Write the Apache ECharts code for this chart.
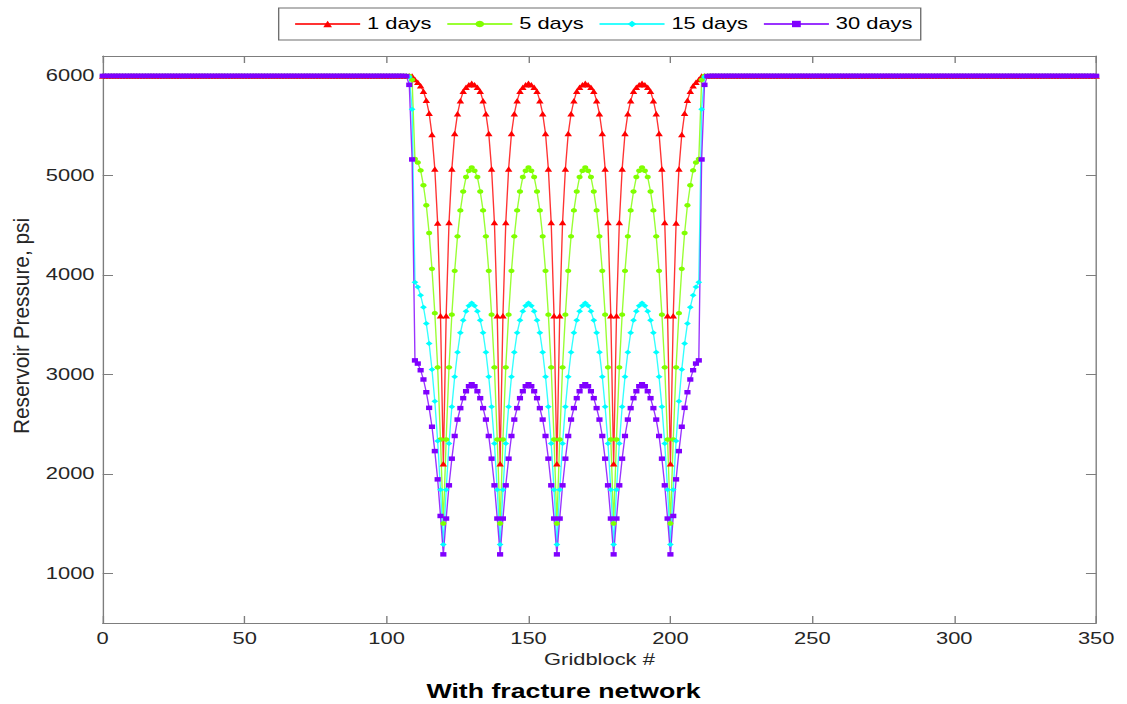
<!DOCTYPE html>
<html>
<head>
<meta charset="utf-8">
<script src="https://cdn.jsdelivr.net/npm/echarts@6/dist/echarts.min.js"></script>
<style>
  html, body { margin: 0; padding: 0; background: #fff; }
  #wrap { width: 1127px; height: 704px; overflow: hidden; position: relative; background: #fff; }
  /* the figure is laid out on a narrower canvas and widened horizontally */
  #chart { width: 823px; height: 704px; transform: scaleX(1.3694); transform-origin: 0 0; }
</style>
</head>
<body>
<div id="wrap"><div id="chart"></div></div>
<script>
// Gridblock pressure profiles (psi) along the model
const firstBlock = 0;
const lastBlock = 350;
const initialPressure = 6000;
const profileStart = 106; // first gridblock listed in the profiles below (runs to 214)

const seriesNames = ['1 days', '5 days', '15 days', '30 days'];
const xTicks = [0, 50, 100, 150, 200, 250, 300, 350];
const yTicks = [1000, 2000, 3000, 4000, 5000, 6000];

const p1Day = [
  6000, 6000, 6000, 5998, 5965,
  5935, 5900, 5845, 5755, 5625, 5410, 5065, 4520, 3590, 2100,
  3590, 4525, 5065, 5420, 5620, 5750, 5845, 5885, 5910, 5925, 5910, 5885, 5845, 5750, 5620, 5420, 5065, 4525, 3590, 2100,
  3590, 4525, 5065, 5420, 5620, 5750, 5845, 5885, 5910, 5925, 5910, 5885, 5845, 5750, 5620, 5420, 5065, 4525, 3590, 2100,
  3590, 4525, 5065, 5420, 5620, 5750, 5845, 5885, 5910, 5925, 5910, 5885, 5845, 5750, 5620, 5420, 5065, 4525, 3590, 2100,
  3590, 4525, 5065, 5420, 5620, 5750, 5845, 5885, 5910, 5925, 5910, 5885, 5845, 5750, 5620, 5420, 5065, 4525, 3590, 2100,
  3590, 4520, 5065, 5410, 5625, 5755, 5845, 5900, 5935, 5965,
  5998, 6000, 6000, 6000
];
const p5Days = [
  6000, 6000, 6000, 5960, 5165,
  5130, 5050, 4900, 4700, 4420, 4060, 3615, 3070, 2345, 1500,
  2345, 3070, 3600, 4040, 4387, 4648, 4838, 4983, 5046, 5080, 5046, 4983, 4838, 4648, 4387, 4040, 3600, 3070, 2345, 1500,
  2345, 3070, 3600, 4040, 4387, 4648, 4838, 4983, 5046, 5080, 5046, 4983, 4838, 4648, 4387, 4040, 3600, 3070, 2345, 1500,
  2345, 3070, 3600, 4040, 4387, 4648, 4838, 4983, 5046, 5080, 5046, 4983, 4838, 4648, 4387, 4040, 3600, 3070, 2345, 1500,
  2345, 3070, 3600, 4040, 4387, 4648, 4838, 4983, 5046, 5080, 5046, 4983, 4838, 4648, 4387, 4040, 3600, 3070, 2345, 1500,
  2345, 3070, 3615, 4060, 4420, 4700, 4900, 5050, 5130, 5165,
  5960, 6000, 6000, 6000
];
const p15Days = [
  6000, 6000, 5990, 5665, 3925,
  3879, 3795, 3674, 3510, 3310, 3048, 2730, 2330, 1840, 1290,
  1840, 2305, 2673, 2975, 3222, 3417, 3543, 3634, 3690, 3718, 3690, 3634, 3543, 3417, 3222, 2975, 2673, 2305, 1840, 1290,
  1840, 2305, 2673, 2975, 3222, 3417, 3543, 3634, 3690, 3718, 3690, 3634, 3543, 3417, 3222, 2975, 2673, 2305, 1840, 1290,
  1840, 2305, 2673, 2975, 3222, 3417, 3543, 3634, 3690, 3718, 3690, 3634, 3543, 3417, 3222, 2975, 2673, 2305, 1840, 1290,
  1840, 2305, 2673, 2975, 3222, 3417, 3543, 3634, 3690, 3718, 3690, 3634, 3543, 3417, 3222, 2975, 2673, 2305, 1840, 1290,
  1840, 2330, 2730, 3048, 3310, 3510, 3674, 3795, 3879, 3925,
  5665, 5990, 6000, 6000
];
const p30Days = [
  6000, 5998, 5910, 5160, 3140,
  3108, 3041, 2948, 2820, 2663, 2473, 2228, 1944, 1576, 1190,
  1550, 1884, 2152, 2380, 2545, 2660, 2760, 2830, 2880, 2900, 2880, 2830, 2760, 2660, 2545, 2380, 2152, 1884, 1550, 1190,
  1550, 1884, 2152, 2380, 2545, 2660, 2760, 2830, 2880, 2900, 2880, 2830, 2760, 2660, 2545, 2380, 2152, 1884, 1550, 1190,
  1550, 1884, 2152, 2380, 2545, 2660, 2760, 2830, 2880, 2900, 2880, 2830, 2760, 2660, 2545, 2380, 2152, 1884, 1550, 1190,
  1550, 1884, 2152, 2380, 2545, 2660, 2760, 2830, 2880, 2900, 2880, 2830, 2760, 2660, 2545, 2380, 2152, 1884, 1550, 1190,
  1576, 1944, 2228, 2473, 2663, 2820, 2948, 3041, 3108, 3140,
  5160, 5910, 5998, 6000
];

// full profile over every gridblock: blocks outside the listed span stay at initial pressure
function fullProfile(profile) {
  const out = [];
  for (let b = firstBlock; b <= lastBlock; b++) {
    const i = b - profileStart;
    out.push([b, (i >= 0 && i < profile.length) ? profile[i] : initialPressure]);
  }
  return out;
}

const FONT = "'Liberation Sans', Arial, Helvetica, sans-serif";
const AXIS_GRAY = '#7d7d7d';
const TEXT = '#262626';

const styles = [
  { color: '#ff0000', symbol: 'triangle', size: 5.5, data: p1Day },
  { color: '#80ff00', symbol: 'circle', size: 4.5, data: p5Days },
  { color: '#00ffff', symbol: 'diamond', size: 5, data: p15Days },
  { color: '#8000ff', symbol: 'rect', size: 4.5, data: p30Days }
];

const series = styles.map((s, k) => ({
  name: seriesNames[k],
  type: 'line',
  data: fullProfile(s.data),
  symbol: s.symbol,
  symbolSize: s.size,
  showSymbol: true,
  clip: false,
  color: s.color,
  lineStyle: { width: 1, color: s.color, opacity: 0.8 },
  itemStyle: { color: s.color },
  emphasis: { disabled: true },
  animation: false
}));

const plainNumber = v => String(v);

const baseX = {
  type: 'value', min: firstBlock, max: lastBlock, interval: 50,
  splitLine: { show: false },
  axisLine: { show: true, lineStyle: { color: AXIS_GRAY, width: 1 } },
  axisTick: { show: true, inside: true, length: 7, lineStyle: { color: AXIS_GRAY } }
};
const baseY = {
  type: 'value', min: 500, max: 6200, interval: 500,
  splitLine: { show: false },
  axisLine: { show: true, onZero: false, lineStyle: { color: AXIS_GRAY, width: 1 } },
  axisTick: { show: true, inside: true, length: 7.5, customValues: yTicks, lineStyle: { color: AXIS_GRAY } }
};

const chart = echarts.init(document.getElementById('chart'), null, { renderer: 'svg' });
chart.setOption({
  backgroundColor: '#fff',
  animation: false,
  textStyle: { fontFamily: FONT },
  title: {
    text: 'With fracture network',
    left: 'center', top: 676,
    textStyle: { fontFamily: FONT, fontSize: 19.5, fontWeight: 'bold', color: '#000' }
  },
  legend: {
    data: seriesNames,
    left: 203.5, top: 8,
    orient: 'horizontal',
    itemWidth: 47.5, itemHeight: 8, itemGap: 10.5,
    padding: [8, 6, 8, 11],
    borderColor: '#6f6f6f', borderWidth: 1,
    backgroundColor: '#fff',
    textStyle: { fontFamily: FONT, fontSize: 16, color: '#000' },
    selectedMode: false
  },
  grid: { left: 75, right: 22.5, top: 56, bottom: 81 },
  xAxis: [
    Object.assign({}, baseX, {
      position: 'bottom',
      axisLabel: { show: true, margin: 8, fontFamily: FONT, fontSize: 16, color: TEXT,
                   customValues: xTicks, formatter: plainNumber },
      name: 'Gridblock #', nameLocation: 'middle', nameGap: 29,
      nameTextStyle: { fontFamily: FONT, fontSize: 16, color: TEXT }
    }),
    Object.assign({}, baseX, { position: 'top', axisLabel: { show: false } })
  ],
  yAxis: [
    Object.assign({}, baseY, {
      position: 'left',
      axisLabel: { show: true, margin: 6, fontFamily: FONT, fontSize: 16, color: TEXT,
                   customValues: yTicks, formatter: plainNumber }
    }),
    Object.assign({}, baseY, { position: 'right', axisLabel: { show: false } })
  ],
  graphic: [{
    type: 'text',
    x: 16, y: 326,
    rotation: Math.PI / 2,
    scaleX: 1.3,
    style: {
      text: 'Reservoir Pressure, psi',
      font: "16px 'Liberation Sans', Arial, sans-serif",
      fill: TEXT, align: 'center', verticalAlign: 'middle'
    }
  }],
  series: series
});
</script>
</body>
</html>
